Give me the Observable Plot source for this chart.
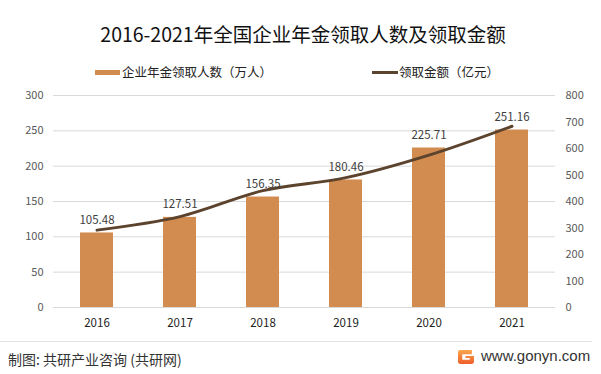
<!DOCTYPE html>
<html>
<head>
<meta charset="utf-8">
<script src="https://cdn.jsdelivr.net/npm/d3@7"></script>
<script src="https://cdn.jsdelivr.net/npm/@observablehq/plot@0.6"></script>
<style>
  body { margin: 0; background: #fff; }
  #wrap { position: relative; width: 601px; height: 374px; background: #fff; overflow: hidden;
          font-family: "Noto Sans CJK SC", "Noto Sans", sans-serif; }
  #chart { position: absolute; left: 0; top: 0; }
  .abs { position: absolute; white-space: nowrap; }
  #title { left: 0; width: 606px; text-align: center; top: 23px; font-size: 19.5px; line-height: 22px; color: #111; }
  .leg { top: 64px; font-size: 12.5px; line-height: 16px; color: #222; }
  #footL { left: 8px; top: 350px; font-size: 14px; line-height: 18px; color: #333; }
  #footR { left: 481px; top: 347px; font-size: 15px; line-height: 18px; color: #333; font-family: "Liberation Sans", "Noto Sans", sans-serif; }
</style>
</head>
<body>
<div id="wrap">
  <div id="chart"></div>
  <div id="title" class="abs">2016-2021年全国企业年金领取人数及领取金额</div>
  <div class="abs" style="left:95px;top:69.5px;width:25px;height:5.5px;background:#d28c50"></div>
  <div class="abs leg" style="left:122px">企业年金领取人数（万人）</div>
  <div class="abs" style="left:372px;top:70.5px;width:26px;height:3px;background:#5c432e"></div>
  <div class="abs leg" style="left:399px">领取金额（亿元）</div>
  <div class="abs" style="left:0;top:341px;width:592px;height:1px;background:#e3e3e3"></div>
  <div id="footL" class="abs">制图: 共研产业咨询 (共研网)</div>
  <svg class="abs" style="left:458px;top:350px" width="16" height="14" viewBox="0 0 15 13">
    <defs><linearGradient id="lg" x1="0" y1="0" x2="0" y2="1">
      <stop offset="0" stop-color="#f8a64c"/><stop offset="1" stop-color="#ef5f2b"/></linearGradient></defs>
    <path d="M0,2 Q0,0 2,0 H13 V4 H4 V9 H11 V7.5 H7 V5.5 H15 V11 Q15,13 13,13 H2 Q0,13 0,11 Z" fill="url(#lg)"/>
  </svg>
  <div id="footR" class="abs">www.gonyn.com</div>
</div>
<script>
const years = ["2016", "2017", "2018", "2019", "2020", "2021"];
const people = [105.48, 127.51, 156.35, 180.46, 225.71, 251.16];   // 万人 (left axis)
const amount = [292, 343, 441, 490, 575, 684];                      // 亿元 (right axis, estimated)
const leftTicks = [0, 50, 100, 150, 200, 250, 300];
const rightTicks = [0, 100, 200, 300, 400, 500, 600, 700, 800];

const LMAX = 300, RMAX = 800;
const toLeft = v => v * LMAX / RMAX;
const data = years.map((y, i) => ({year: y, people: people[i], amount: amount[i]}));

const chart = Plot.plot({
  width: 601,
  height: 374,
  marginTop: 95,
  marginBottom: 67,
  marginLeft: 53,
  marginRight: 46,
  style: {fontFamily: "'Noto Sans CJK SC', 'Noto Sans', sans-serif", background: "transparent"},
  x: {domain: years, paddingInner: 0.6, paddingOuter: 0.3, label: null},
  y: {domain: [0, LMAX], label: null},
  marks: [
    Plot.ruleY(leftTicks, {stroke: "#d9d9d9", strokeWidth: 1}),
    Plot.barY(data, {x: "year", y: "people", fill: "#d28c50"}),
    Plot.line(data, {x: "year", y: d => toLeft(d.amount), stroke: "#5c432e", strokeWidth: 3,
                     curve: "catmull-rom", strokeLinecap: "round"}),
    Plot.text(data, {x: "year", y: "people", text: d => d.people.toFixed(2), dy: -13,
                     fontSize: 11.5, fill: "#404040"}),
    Plot.axisY(leftTicks, {anchor: "left", tickSize: 0, tickPadding: 10, fontSize: 11,
                           color: "#595959", label: null}),
    Plot.axisY(rightTicks.map(toLeft), {anchor: "right", tickSize: 0, tickPadding: 10, fontSize: 11,
                           color: "#595959", label: null, tickFormat: d => Math.round(d * RMAX / LMAX)}),
    Plot.axisX({tickSize: 0, tickPadding: 11, fontSize: 11.5, color: "#222", label: null})
  ]
});
document.getElementById("chart").appendChild(chart);
</script>
</body>
</html>
